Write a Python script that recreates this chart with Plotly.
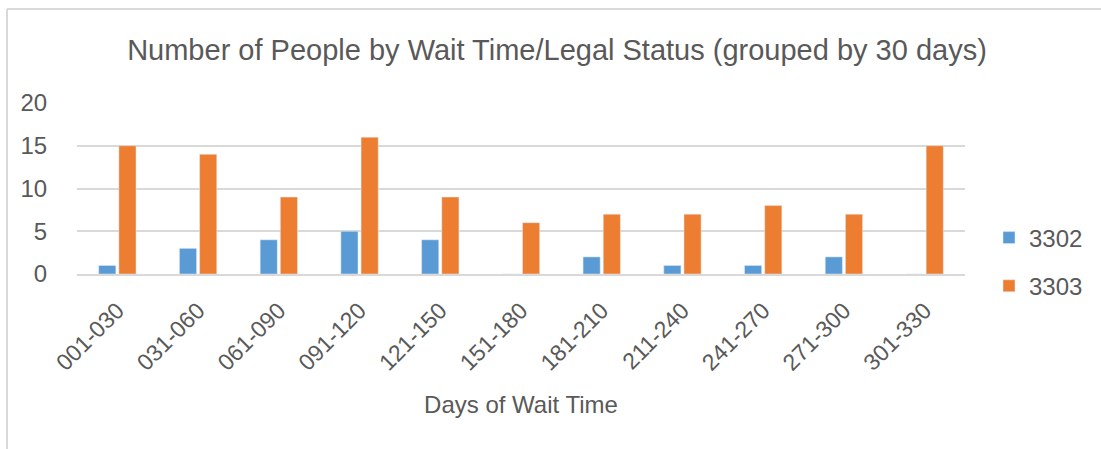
import plotly.graph_objects as go

categories = ["001-030", "031-060", "061-090", "091-120", "121-150", "151-180",
              "181-210", "211-240", "241-270", "271-300", "301-330"]
s3302 = [1, 3, 4, 5, 4, 0, 2, 1, 1, 2, 0]
s3303 = [15, 14, 9, 16, 9, 6, 7, 7, 8, 7, 15]
yticks = [0, 5, 10, 15, 20]

FONT = "Liberation Sans, Arial"
TXT = "#595959"

fig = go.Figure()
fig.add_trace(go.Bar(x=categories, y=s3302, name="3302", marker_color="#5B9BD5",
                     legendgroup="a"))
fig.add_trace(go.Bar(x=categories, y=s3303, name="3303", marker_color="#ED7D31",
                     legendgroup="b"))

L, R, T, B = 77, 136, 103, 175
W, H = 1101, 449
pw, ph = W - L - R, H - T - B
def px(x): return (x - L) / pw
def py(y): return (H - B - y) / ph

fig.update_layout(
    width=W, height=H,
    margin=dict(l=L, r=R, t=T, b=B),
    paper_bgcolor="white", plot_bgcolor="white",
    barmode="group", bargap=0.5, bargroupgap=0.15,
    font=dict(family=FONT, color=TXT, size=24),
    title=dict(text="Number of People by Wait Time/Legal Status (grouped by 30 days)",
               x=557 / W, xref="container", xanchor="center", y=0.89, yanchor="middle",
               font=dict(size=29, color=TXT, family=FONT)),
    legend=dict(x=989 / W, y=1 - 262 / H, xref="container", yref="container",
                xanchor="left", yanchor="middle",
                font=dict(size=24, color=TXT), tracegroupgap=14, itemwidth=30),
    xaxis=dict(tickangle=-45, tickfont=dict(size=23, color=TXT), automargin=False,
               ticks="outside", ticklen=12, tickcolor="rgba(0,0,0,0)",
               title=dict(text="Days of Wait Time", font=dict(size=24, color=TXT), standoff=22),
               showline=True, linecolor="#D9D9D9", linewidth=2),
    yaxis=dict(range=[0, 20], tickvals=yticks, showgrid=True, gridcolor="#D9D9D9",
               gridwidth=2, zeroline=False, tickfont=dict(size=24, color=TXT),
               ticks="outside", ticklen=24, tickcolor="rgba(0,0,0,0)", automargin=False),
    shapes=[
        dict(type="line", xref="paper", yref="paper", x0=px(7), x1=px(W + 5),
             y0=py(9), y1=py(9), line=dict(color="#D9D9D9", width=2)),
        dict(type="line", xref="paper", yref="paper", x0=px(7), x1=px(7),
             y0=py(9), y1=py(H + 5), line=dict(color="#D9D9D9", width=2)),
    ],
)

fig.write_html("out.html", config={"displayModeBar": False},
               post_script="document.body.style.margin='0';")
